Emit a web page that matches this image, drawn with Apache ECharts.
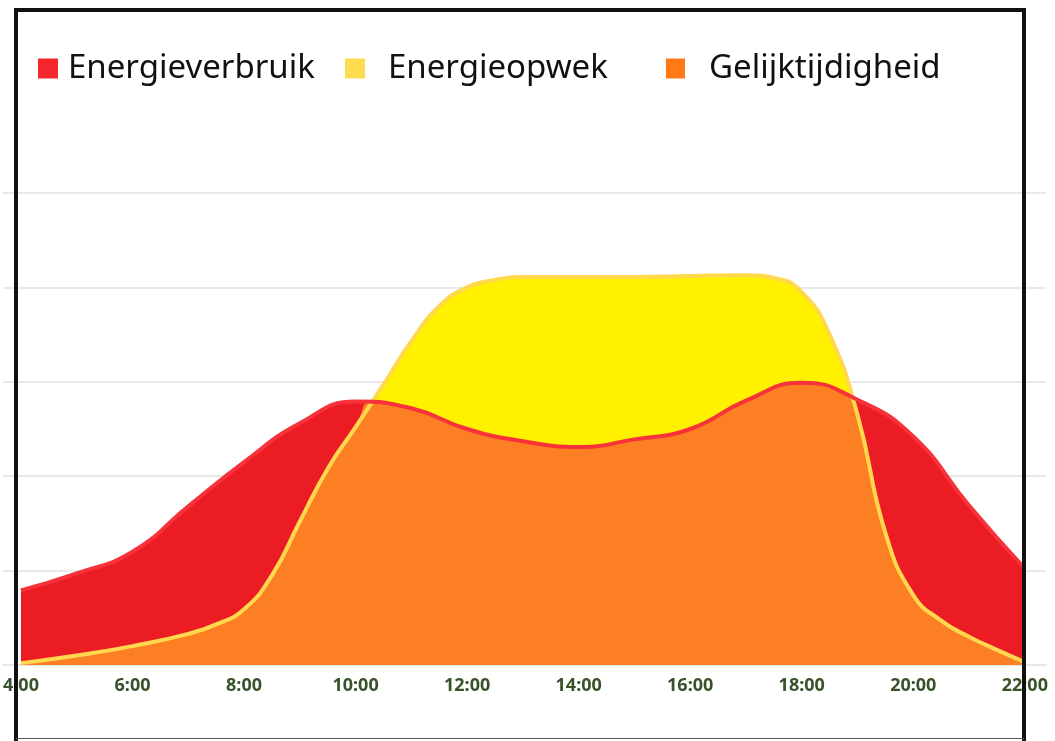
<!DOCTYPE html>
<html>
<head>
<meta charset="utf-8">
<script src="https://cdn.jsdelivr.net/npm/echarts@6/dist/echarts.min.js"></script>
<style>
  html, body { margin: 0; padding: 0; background: #fff; }
  #chart { width: 1055px; height: 741px; }
</style>
</head>
<body>
<div id="chart"></div>
<script>
// energieverbruik per uur
var urenVerbruik = [4, 5, 6, 7, 8, 9, 10, 11, 12, 13, 14, 15, 16, 17, 18, 19, 20, 21, 22];
var verbruik = [0.79, 0.97, 1.20, 1.68, 2.15, 2.56, 2.79, 2.72, 2.50, 2.37, 2.31, 2.39, 2.50, 2.80,
  2.99, 2.81, 2.42, 1.69, 1.02];
// energieopwek (extra punten waar de curve steil is)
var urenOpwek = [4, 5, 6, 7, 7.5, 8, 8.5, 9, 9.5, 10, 10.5, 11, 11.5, 12, 12.5, 13, 14, 15, 16, 17,
  17.5, 18, 18.5, 19, 19.5, 20, 20.5, 21, 21.5, 22];
var opwek = [0.02, 0.10, 0.20, 0.33, 0.43, 0.59, 0.95, 1.52, 2.08, 2.52, 2.97, 3.43, 3.80, 4.00,
  4.08, 4.11, 4.11, 4.11, 4.12, 4.13, 4.10, 3.95, 3.50, 2.65, 1.40, 0.74, 0.47, 0.30, 0.16, 0.03];
// gelijktijdigheid: deel waar verbruik en opwek overlappen (incl. snijpunten)
var urenGelijk = [4, 5, 6, 7, 7.5, 8, 8.5, 9, 9.5, 10, 10.3, 11, 12, 13, 14, 15, 16, 17, 18, 18.5,
  18.9, 19, 19.5, 20, 20.5, 21, 21.5, 22];
var gelijk = [0.02, 0.10, 0.20, 0.33, 0.43, 0.59, 0.95, 1.52, 2.08, 2.52, 2.80, 2.72, 2.50, 2.37,
  2.31, 2.39, 2.50, 2.80, 2.99, 2.93, 2.84, 2.65, 1.40, 0.74, 0.47, 0.30, 0.16, 0.03];
var tijdLabels = [4, 6, 8, 10, 12, 14, 16, 18, 20, 22];

function paren(xs, ys) {
  return xs.map(function (x, i) { return [x, ys[i]]; });
}

var myChart = echarts.init(document.getElementById('chart'));

var legendText = { color: '#111', fontSize: 33, fontFamily: 'Noto Sans' };

var option = {
  animation: false,
  backgroundColor: '#fff',
  legend: [
    { left: 33, top: 47, icon: 'rect', itemWidth: 20, itemHeight: 20, data: ['Energieverbruik'],
      textStyle: Object.assign({ padding: [0, 0, 0, 5] }, legendText) },
    { left: 340, top: 47, icon: 'rect', itemWidth: 20, itemHeight: 20, data: ['Energieopwek'],
      textStyle: Object.assign({ padding: [0, 0, 0, 18] }, legendText) },
    { left: 661, top: 47, icon: 'rect', itemWidth: 19, itemHeight: 20, data: ['Gelijktijdigheid'],
      textStyle: Object.assign({ padding: [0, 0, 0, 19] }, legendText) }
  ],
  grid: { left: 0, right: 9, top: 193, bottom: 76 },
  xAxis: {
    type: 'value',
    min: 3.678,
    max: 22.38,
    axisLine: { lineStyle: { color: '#E6E6E6', width: 2 } },
    axisTick: { show: false },
    splitLine: { show: false },
    axisLabel: {
      customValues: tijdLabels,
      margin: 12,
      color: '#38522A',
      fontSize: 18,
      fontWeight: 'bold',
      fontFamily: 'Noto Sans',
      formatter: function (v) { return v + ':00'; }
    }
  },
  yAxis: {
    type: 'value',
    min: 0,
    max: 5,
    interval: 1,
    axisLabel: { show: false },
    axisLine: { show: false },
    axisTick: { show: false },
    splitLine: { lineStyle: { color: '#E9E9E9', width: 2 } }
  },
  series: [
    {
      name: 'Energieverbruik', type: 'line', smooth: true, showSymbol: false, z: 1,
      data: paren(urenVerbruik, verbruik),
      itemStyle: { color: '#F7262E' },
      lineStyle: { width: 0 },
      areaStyle: { color: '#EC1C24', opacity: 1 }
    },
    {
      name: 'Energieopwek', type: 'line', smooth: true, showSymbol: false, z: 2,
      data: paren(urenOpwek, opwek),
      itemStyle: { color: '#FFDB4F' },
      lineStyle: { width: 0 },
      areaStyle: { color: '#FFF100', opacity: 1 }
    },
    {
      name: 'Gelijktijdigheid', type: 'line', smooth: true, showSymbol: false, z: 3,
      data: paren(urenGelijk, gelijk),
      itemStyle: { color: '#FF7A14' },
      lineStyle: { width: 0 },
      areaStyle: { color: '#FD7F23', opacity: 1 }
    },
    {
      name: 'opwekLijn', type: 'line', smooth: true, showSymbol: false, z: 4,
      data: paren(urenOpwek, opwek),
      lineStyle: { color: '#FFD84D', width: 4 }
    },
    {
      name: 'verbruikLijn', type: 'line', smooth: true, showSymbol: false, z: 5,
      data: paren(urenVerbruik, verbruik),
      lineStyle: { color: '#F7323A', width: 4 }
    }
  ],
  graphic: [
    { type: 'line', z: 100, shape: { x1: 16, y1: 10, x2: 1024, y2: 10 }, style: { stroke: '#111', lineWidth: 4 } },
    { type: 'line', z: 100, shape: { x1: 16, y1: 8, x2: 16, y2: 741 }, style: { stroke: '#111', lineWidth: 4 } },
    { type: 'line', z: 100, shape: { x1: 1024, y1: 8, x2: 1024, y2: 741 }, style: { stroke: '#111', lineWidth: 4 } },
    { type: 'line', z: 100, shape: { x1: 16, y1: 738.5, x2: 1024, y2: 738.5 }, style: { stroke: '#555', lineWidth: 1 } }
  ]
};

myChart.setOption(option);
window.onresize = myChart.resize;
</script>
</body>
</html>
